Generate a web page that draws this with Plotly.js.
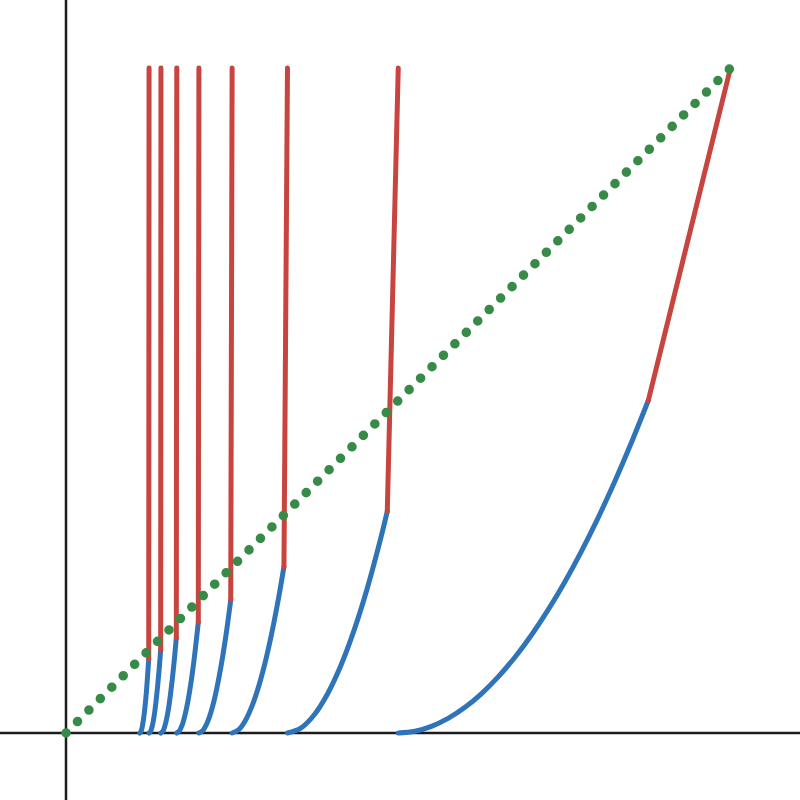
<!DOCTYPE html>
<html>
<head>
<meta charset="utf-8">
<script src="https://cdn.plot.ly/plotly-3.0.1.min.js"></script>
<style>html,body{margin:0;padding:0;background:#fff;}#chart{width:800px;height:800px;}</style>
</head>
<body>
<div id="chart"></div>
<script>
// Blue (lower) curve segments, one per n = 1..8
const blueX1 = [0.5, 0.525, 0.55, 0.575, 0.6, 0.625, 0.65, 0.675, 0.7, 0.725, 0.75, 0.775, 0.8, 0.825, 0.85, 0.8763];
const blueY1 = [0, 0.0026, 0.01, 0.0219, 0.0382, 0.0589, 0.084, 0.1132, 0.1467, 0.1844, 0.2261, 0.2721, 0.3221, 0.3763, 0.4346, 0.5];
const blueX2 = [0.3333, 0.3533, 0.3733, 0.3933, 0.4133, 0.4333, 0.4533, 0.4733, 0.4835];
const blueY2 = [0, 0.0072, 0.027, 0.0583, 0.1007, 0.1539, 0.2174, 0.2915, 0.3333];
const blueX3 = [0.25, 0.26, 0.27, 0.28, 0.29, 0.30, 0.31, 0.32, 0.328];
const blueY3 = [0, 0.005, 0.0188, 0.0407, 0.0703, 0.1074, 0.1519, 0.2035, 0.25];
const blueX4 = [0.2, 0.206, 0.212, 0.218, 0.224, 0.2299, 0.2359, 0.2419, 0.2479];
const blueY4 = [0, 0.0038, 0.0144, 0.031, 0.0536, 0.0819, 0.1158, 0.1552, 0.2];
const blueX5 = [0.1667, 0.1707, 0.1748, 0.1788, 0.1829, 0.1869, 0.191, 0.195, 0.1991];
const blueY5 = [0, 0.0032, 0.012, 0.0259, 0.0447, 0.0682, 0.0965, 0.1293, 0.1667];
const blueX6 = [0.1429, 0.1458, 0.1487, 0.1516, 0.1545, 0.1573, 0.1602, 0.1631, 0.166];
const blueY6 = [0, 0.0027, 0.0103, 0.0222, 0.0383, 0.0585, 0.0827, 0.1109, 0.1429];
const blueX7 = [0.125, 0.1272, 0.1294, 0.1316, 0.1338, 0.1359, 0.1381, 0.1403, 0.1425];
const blueY7 = [0, 0.0024, 0.009, 0.0194, 0.0335, 0.0512, 0.0724, 0.097, 0.125];
const blueX8 = [0.1111, 0.1128, 0.1145, 0.1161, 0.1178, 0.1195, 0.1212, 0.1228, 0.1245];
const blueY8 = [0, 0.0021, 0.008, 0.0172, 0.0298, 0.0455, 0.0643, 0.0862, 0.1111];

// Red (upper) straight segments, one per n = 1..8
const redStartX = [0.8763, 0.4835, 0.328, 0.2479, 0.1991, 0.166, 0.1425, 0.1245];
const redStartY = [0.5, 0.3333, 0.25, 0.2, 0.1667, 0.1429, 0.125, 0.1111];
const redEndX = [1, 0.5, 0.3333, 0.25, 0.2, 0.1667, 0.1429, 0.125];
const redEndY = [1, 1, 1, 1, 1, 1, 1, 1];

// Green dotted diagonal
const diagX = [0, 1];
const diagY = [0, 1];

const BLUE = '#2f74b9';
const RED = '#c8443f';
const GREEN = '#378b47';
const AXIS = '#1c1c1c';

const blueXs = [blueX1, blueX2, blueX3, blueX4, blueX5, blueX6, blueX7, blueX8];
const blueYs = [blueY1, blueY2, blueY3, blueY4, blueY5, blueY6, blueY7, blueY8];

const traces = [];
blueXs.forEach((xs, i) => {
  traces.push({
    x: xs, y: blueYs[i], type: 'scatter', mode: 'lines',
    line: {color: BLUE, width: 5, shape: 'spline', smoothing: 1},
    hoverinfo: 'skip', showlegend: false
  });
});
redStartX.forEach((x0, i) => {
  traces.push({
    x: [x0, redEndX[i]], y: [redStartY[i], redEndY[i]], type: 'scatter', mode: 'lines',
    line: {color: RED, width: 5},
    hoverinfo: 'skip', showlegend: false
  });
});
traces.push({
  x: diagX, y: diagY, type: 'scatter', mode: 'lines',
  line: {color: GREEN, width: 9.5, dash: '0.1px,16.08px'},
  hoverinfo: 'skip', showlegend: false, name: 'diag'
});

const axisCommon = {
  showgrid: false, showticklabels: false, ticks: '',
  zeroline: false, showline: false, fixedrange: true
};

const layout = {
  width: 800, height: 800,
  margin: {l: 0, r: 0, t: 0, b: 0, pad: 0},
  paper_bgcolor: '#ffffff', plot_bgcolor: '#ffffff',
  xaxis: Object.assign({range: [-0.09932, 1.10459]}, axisCommon),
  yaxis: Object.assign({range: [-0.10075, 1.10226]}, axisCommon),
  shapes: [
    {type: 'line', layer: 'below', xref: 'x', yref: 'paper', x0: 0, x1: 0, y0: 0, y1: 1,
     line: {color: AXIS, width: 2.5}},
    {type: 'line', layer: 'below', xref: 'paper', yref: 'y', x0: 0, x1: 1, y0: 0, y1: 0,
     line: {color: AXIS, width: 2.5}}
  ],
  showlegend: false
};

Plotly.newPlot('chart', traces, layout, {staticPlot: true, displayModeBar: false}).then(() => {
  document.querySelectorAll('.scatterlayer path.js-line').forEach(p => {
    p.style.strokeLinecap = 'round';
  });
});
</script>
</body>
</html>
